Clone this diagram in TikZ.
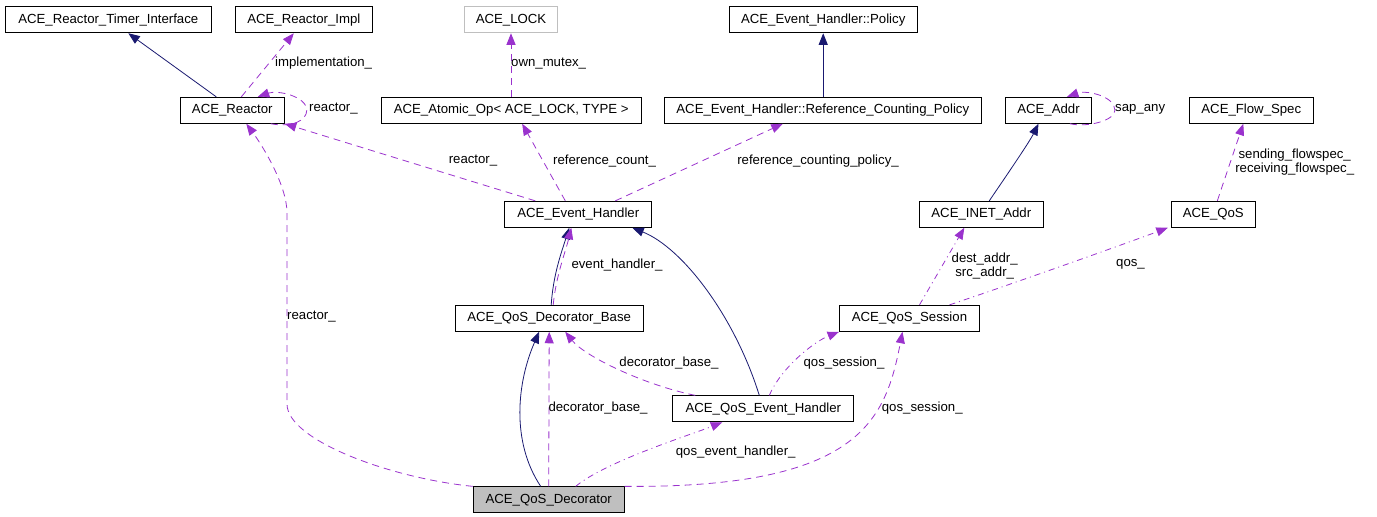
\documentclass[tikz,border=0pt]{standalone}
\usepackage{fontspec}
\setmainfont{Liberation Sans}
\usepackage{tikz}
\usetikzlibrary{arrows.meta,calc}
\definecolor{dxnavy}{RGB}{25,25,112}
\definecolor{dxpurple}{RGB}{154,50,205}
\definecolor{dxgray}{RGB}{191,191,191}
\tikzstyle{classbox} = [rectangle, minimum height=26, inner sep=0pt, draw=black, fill=white, line width=0.9pt, font=\fontsize{13.2}{14}\selectfont]
\tikzstyle{edgelabel} = [inner sep=0pt, align=center, font=\fontsize{13.2}{14}\selectfont]
\tikzstyle{inherit} = [draw=dxnavy, line width=0.8pt, -{Triangle[length=11.5pt,width=9pt]}]
\tikzstyle{usage} = [draw=dxpurple, line width=0.8pt, dash pattern=on 7pt off 5pt, -{Triangle[length=11.5pt,width=9pt]}]
\tikzstyle{usagedot} = [usage, dash pattern=on 6pt off 4pt on 1pt off 4pt]

\begin{document}
\begin{tikzpicture}[x=1pt,y=-1pt]
\useasboundingbox (0,0) rectangle (1377,517);
% Top row
\node[classbox, minimum width=206] (timer) at (108.3,19.8) {ACE\_Reactor\_Timer\_Interface};
\node[classbox, minimum width=137] (impl) at (303.8,19.8) {ACE\_Reactor\_Impl};
\node[classbox, minimum width=93, draw=dxgray] (lock) at (511,19.8) {ACE\_LOCK};
\node[classbox, minimum width=188] (policy) at (823.2,19.8) {ACE\_Event\_Handler::Policy};
% Second row
\node[classbox, minimum width=104] (reactor) at (232.3,110.3) {ACE\_Reactor};
\node[classbox, minimum width=260] (atomic) at (511.2,110.3) {ACE\_Atomic\_Op< ACE\_LOCK, TYPE >};
\node[classbox, minimum width=317] (refpol) at (822.8,110.3) {ACE\_Event\_Handler::Reference\_Counting\_Policy};
\node[classbox, minimum width=86] (addr) at (1048.5,110.3) {ACE\_Addr};
\node[classbox, minimum width=124] (flow) at (1251.3,110.3) {ACE\_Flow\_Spec};
% Third row
\node[classbox, minimum width=147] (eh) at (578.3,214.3) {ACE\_Event\_Handler};
\node[classbox, minimum width=124] (inet) at (981.3,214.3) {ACE\_INET\_Addr};
\node[classbox, minimum width=84] (qos) at (1213.3,214.3) {ACE\_QoS};
% Fourth row
\node[classbox, minimum width=188] (base) at (549.2,318.3) {ACE\_QoS\_Decorator\_Base};
\node[classbox, minimum width=140] (session) at (909.5,318.3) {ACE\_QoS\_Session};
\node[classbox, minimum width=181] (qeh) at (763.3,408.8) {ACE\_QoS\_Event\_Handler};
\node[classbox, minimum width=151, fill=dxgray] (deco) at (548.7,499.8) {ACE\_QoS\_Decorator};

% Inheritance
\draw[inherit] ([xshift=-16]reactor.north) -- ([xshift=20]timer.south);
\draw[inherit] (policy.south |- refpol.north) -- (policy.south);
\draw[inherit] ([xshift=8]inet.north) .. controls +(8,-12) and +(-10,20) .. ([xshift=-10]addr.south);
\draw[inherit] ([xshift=2]base.north) .. controls +(2,-30) and +(-8,25) .. ([xshift=-9]eh.south);
\draw[inherit] ([xshift=-4]qeh.north) .. controls +(-25,-80) and +(50,20) .. ([xshift=-20]eh.south east);
\draw[inherit] ([xshift=-8]deco.north) .. controls +(-30,-45) and +(-22,50) .. ([xshift=-10]base.south);

% Usage
\draw[usage] ([xshift=9]reactor.north) -- ([xshift=-10]impl.south);
\draw[usage] ([xshift=-14]reactor.south east) .. controls +(22,4) and +(0,10) .. ([xshift=22]reactor.east) .. controls +(0,-14) and +(20,-7) .. ([xshift=-27]reactor.north east);
\draw[usage] ([xshift=-43]eh.north) -- (reactor.south east);
\draw[usage] (lock.south |- atomic.north) -- (lock.south);
\draw[usage] ([xshift=-13]eh.north) -- ([xshift=11]atomic.south);
\draw[usage] ([xshift=37]eh.north) -- ([xshift=-40]refpol.south);
\draw[usage] ([xshift=-22]addr.south east) .. controls +(18,4) and +(0,10) .. ([xshift=23]addr.east) .. controls +(0,-14) and +(20,-7) .. ([xshift=-25]addr.north east);
\draw[usage] ([xshift=4]qos.north) -- ([xshift=-8]flow.south);
\draw[usage] ([xshift=4]base.north) .. controls +(3,-30) and +(-6,25) .. ([xshift=-7]eh.south);
\draw[usagedot] ([xshift=40]session.north) .. controls +(60,-20) and +(-40,15) .. ([xshift=-3]qos.south west);
\draw[usagedot] ([xshift=10]session.north) -- ([xshift=-17]inet.south);
\draw[usage] ([xshift=-68]qeh.north) .. controls +(-50,-10) and +(20,25) .. ([xshift=16]base.south);
\draw[usagedot] ([xshift=6]qeh.north) .. controls +(12,-28) and +(-25,10) .. (session.south west);
\draw[usage] (deco.north) -- (base.south);
\draw[usagedot] ([xshift=27]deco.north) .. controls +(30,-25) and +(-30,12) .. ([xshift=-41]qeh.south);
\draw[usage] (deco.north east) .. controls +(236,2) and +(-17,88) .. ([xshift=-7]session.south);
\coordinate (rlow) at (287,404);
\coordinate (rhigh) at (287,213);
\draw[usage] (deco.north west) .. controls (390,478) and (287,440) .. (rlow) -- (rhigh) .. controls (287,185) and (262,145) .. ([xshift=14]reactor.south);

% Labels
\node[edgelabel, anchor=west] (limpl) at (275,63.3) {implementation\_};
\node[edgelabel, anchor=west] (lself) at (309,109) {reactor\_};
\node[edgelabel] (lreact) at (473,161) {reactor\_};
\node[edgelabel, anchor=west] (lmutex) at (511,63.3) {own\_mutex\_};
\node[edgelabel] (lcount) at (604.5,161) {reference\_count\_};
\node[edgelabel] (lpolicy) at (818,161) {reference\_counting\_policy\_};
\node[edgelabel, anchor=west] (lsap) at (1115,109) {sap\_any};
\node[edgelabel] (lflow) at (1294.7,162) {sending\_flowspec\_\\receiving\_flowspec\_};
\node[edgelabel, anchor=west] (lhandler) at (571.3,264.7) {event\_handler\_};
\node[edgelabel] (lqos) at (1130.5,264.7) {qos\_};
\node[edgelabel] (laddr) at (984.7,265.7) {dest\_addr\_\\src\_addr\_};
\node[edgelabel, anchor=west] (ldreact) at (287,317) {reactor\_};
\node[edgelabel] (lqbase) at (669,363) {decorator\_base\_};
\node[edgelabel] (lqsess) at (844,363) {qos\_session\_};
\node[edgelabel, anchor=west] (ldbase) at (548.3,408) {decorator\_base\_};
\node[edgelabel, anchor=west] (ldsess) at (881.7,408) {qos\_session\_};
\node[edgelabel] (ldqeh) at (735.7,452.3) {qos\_event\_handler\_};
\end{tikzpicture}
\end{document}
